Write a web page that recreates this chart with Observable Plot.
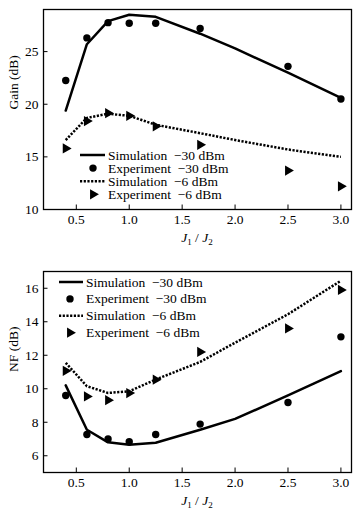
<!DOCTYPE html>
<html><head><meta charset="utf-8">
<script src="https://cdn.jsdelivr.net/npm/d3@7"></script>
<script src="https://cdn.jsdelivr.net/npm/@observablehq/plot@0.6"></script>
<style>
body{margin:0;background:#fff}
#c{width:363px}
svg{display:block}
</style>
</head><body><div id="c"></div>
<script>
// x values (J1/J2)
const simRatio = [0.4, 0.6, 0.8, 1.0, 1.25, 1.67, 2.0, 2.5, 3.0];
const expRatio = [0.4, 0.6, 0.8, 1.0, 1.25, 1.67, 2.5, 3.0];
// Gain (dB)
const gainSim30 = [19.4, 25.7, 27.9, 28.5, 28.3, 26.7, 25.3, 23.0, 20.6];
const gainExp30 = [22.25, 26.3, 27.75, 27.7, 27.7, 27.2, 23.6, 20.5];
const gainSim6 = [16.6, 18.7, 19.1, 18.9, 18.05, 17.25, 16.6, 15.7, 15.0];
const gainExp6 = [15.8, 18.4, 19.15, 18.9, 17.9, 16.15, 13.7, 12.2];
// NF (dB)
const nfSim30 = [10.2, 7.55, 6.8, 6.65, 6.78, 7.55, 8.2, 9.6, 11.05];
const nfExp30 = [9.6, 7.27, 7.0, 6.84, 7.27, 7.89, 9.18, 13.1];
const nfSim6 = [11.55, 10.15, 9.75, 9.85, 10.55, 11.6, 12.75, 14.45, 16.45];
const nfExp6 = [11.07, 9.54, 9.32, 9.74, 10.54, 12.2, 13.6, 15.9];
// ticks
const xTicks = [0.5, 1.0, 1.5, 2.0, 2.5, 3.0];
const gainTicks = [10, 15, 20, 25];
const nfTicks = [6, 8, 10, 12, 14, 16];
// legend
const legendLabels = ["Simulation  \u221230 dBm", "Experiment  \u221230 dBm", "Simulation  \u22126 dBm", "Experiment  \u22126 dBm"];
const legendKinds = ["solid", "circle", "dotted", "triangle"];

const W = 363, H = 256, ML = 43, MR = 12;
const DASH = "2.2,1.5";
const LW = 2.5;
const RC = 3.7, RT = 4.9;
const FONT = "Liberation Serif";
const FS = 13.5;

function legendMark(cfg) {
  return (index, scales, values, dims) => {
    const g = d3.create("svg:g").attr("text-anchor", "start");
    legendLabels.forEach((lab, i) => {
      const y = dims.marginTop + cfg.top + i * cfg.step;
      const kind = legendKinds[i];
      if (kind === "solid" || kind === "dotted") {
        g.append("line").attr("x1", ML + cfg.x1).attr("x2", ML + cfg.x2).attr("y1", y).attr("y2", y)
          .attr("stroke", "black").attr("stroke-width", LW).attr("stroke-linecap", "butt")
          .attr("stroke-dasharray", kind === "dotted" ? DASH : null);
      } else if (kind === "circle") {
        g.append("circle").attr("cx", ML + cfg.mx).attr("cy", y).attr("r", RC).attr("fill", "black");
      } else {
        g.append("path").attr("d", d3.symbol(d3.symbolTriangle2, Math.PI * RT * RT)())
          .attr("transform", `translate(${ML + cfg.mx},${y}) rotate(90)`).attr("fill", "black");
      }
      g.append("text").attr("x", ML + cfg.tx).attr("y", y).attr("dy", "0.34em").attr("fill", "black")
        .attr("text-anchor", "start").text(lab);
    });
    return g.node();
  };
}

function xLabelMark(dy) {
  return (index, scales, values, dims) => {
    const cx = dims.marginLeft + (dims.width - dims.marginLeft - dims.marginRight) / 2;
    const t = d3.create("svg:text").attr("x", cx).attr("y", dims.height - dims.marginBottom + dy)
      .attr("text-anchor", "middle").attr("fill", "black");
    t.append("tspan").attr("font-style", "italic").text("J");
    t.append("tspan").attr("class", "sub").attr("dy", 3).text("1");
    t.append("tspan").attr("dy", -3).text(" / ");
    t.append("tspan").attr("font-style", "italic").text("J");
    t.append("tspan").attr("class", "sub").attr("dy", 3).text("2");
    return t.node();
  };
}

function chart({yLabel, yDomain, yTicks, sim30, exp30, sim6, exp6, mt, mb, legend}) {
  const innerW = W - ML - MR, innerH = H - mt - mb;
  const svg = Plot.plot({
    width: W, height: H, marginLeft: ML, marginRight: MR, marginTop: mt, marginBottom: mb,
    x: {domain: [0.19, 3.1], label: null},
    y: {domain: yDomain, label: null},
    marks: [
      Plot.axisX(xTicks, {tickSize: 0, tickPadding: 5, tickFormat: d => d.toFixed(1), label: null, fill: "black", fontSize: FS}),
      Plot.axisY(yTicks, {tickSize: 0, tickPadding: 5, label: null, fill: "black", fontSize: FS}),
      Plot.tickX(xTicks, {x: d => d, insetTop: innerH - 4.5, stroke: "black"}),
      Plot.tickY(yTicks, {y: d => d, insetRight: innerW - 4.5, stroke: "black"}),
      Plot.frame({stroke: "black", strokeWidth: 1.3}),
      Plot.line(sim30, {x: simRatio, y: d => d, stroke: "black", strokeWidth: LW}),
      Plot.line(sim6, {x: simRatio, y: d => d, stroke: "black", strokeWidth: LW, strokeDasharray: DASH, strokeLinecap: "butt"}),
      Plot.dot(exp30, {x: expRatio, y: d => d, r: RC, fill: "black", stroke: null}),
      Plot.dot(exp6, {x: expRatio, y: d => d, r: RT, symbol: "triangle2", rotate: 90, fill: "black", stroke: null}),
      Plot.text([yLabel], {frameAnchor: "left", text: d => d, rotate: -90, dx: -30, fill: "black", fontSize: FS}),
      xLabelMark(33),
      legendMark(legend)
    ]
  });
  svg.setAttribute("font-family", FONT);
  svg.setAttribute("font-size", FS);
  svg.querySelectorAll("g, text").forEach(n => {
    if (n.hasAttribute("font-family")) n.setAttribute("font-family", FONT);
  });
  svg.querySelectorAll("text").forEach(n => {
    n.setAttribute("font-family", FONT);
    n.setAttribute("font-size", FS);
    n.style.fontFamily = FONT;
    n.style.fontSize = FS + "px";
  });
  svg.querySelectorAll("tspan.sub").forEach(n => {
    n.setAttribute("font-size", 9);
    n.style.fontSize = "9px";
  });
  return svg;
}

const c = document.getElementById("c");
c.append(chart({
  yLabel: "Gain (dB)", yDomain: [10, 29], yTicks: gainTicks,
  sim30: gainSim30, exp30: gainExp30, sim6: gainSim6, exp6: gainExp6,
  mt: 9, mb: 47,
  legend: {top: 146, step: 13.1, x1: 37, x2: 62, mx: 50, tx: 65}
}));
c.append(chart({
  yLabel: "NF (dB)", yDomain: [5, 17], yTicks: nfTicks,
  sim30: nfSim30, exp30: nfExp30, sim6: nfSim6, exp6: nfExp6,
  mt: 15, mb: 40,
  legend: {top: 11, step: 16.9, x1: 16, x2: 40, mx: 27, tx: 43}
}));
</script>
</body></html>
